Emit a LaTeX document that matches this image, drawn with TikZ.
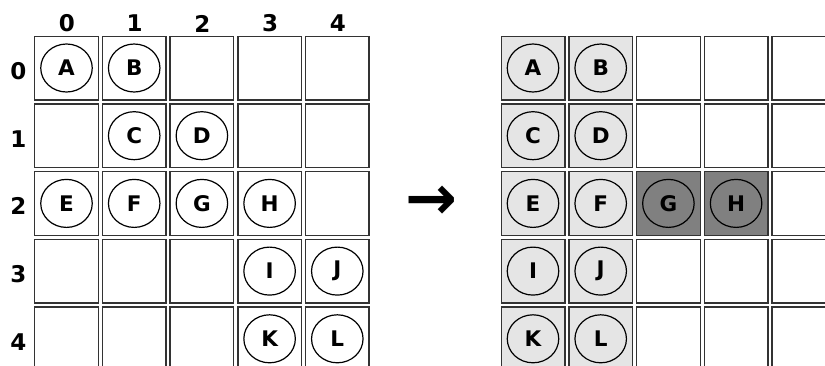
\documentclass[tikz,border=0pt]{standalone}
\usepackage{fontspec}
\setmainfont{DejaVu Sans}
\usetikzlibrary{shapes.geometric}
\begin{document}
\begin{tikzpicture}[x=1pt,y=-1pt,
  cell/.style={draw=black!80, line width=1.4pt, minimum size=63.6pt, inner sep=0pt, outer sep=0pt},
  light/.style={cell, fill=black!10},
  dark/.style={cell, fill=black!50},
  ball/.style={ellipse, draw=black, line width=1.2pt, minimum width=51.5pt, minimum height=48pt, inner sep=0pt,
    font=\fontsize{21.5}{21.5}\selectfont\bfseries},
  lab/.style={font=\fontsize{23}{23}\selectfont\bfseries, inner sep=0pt}
]
\clip (0,0) rectangle (825,365);
\useasboundingbox (0,0) rectangle (825,365);
% left grid
\foreach \i in {0,...,4}{
  \foreach \j in {0,...,4}{
    \node[cell] (L\i\j) at ({66.5+67.7*\i},{68+67.7*\j}) {};
  }
  \node[lab] (col\i) at ({67+67.7*\i},23.5) {\i};
  \node[lab] (row\i) at (18.5,{71+67.7*\i}) {\i};
}
\node[ball] (A) at (L00) {A};
\node[ball] (B) at (L10) {B};
\node[ball] (C) at (L11) {C};
\node[ball] (D) at (L21) {D};
\node[ball] (E) at (L02) {E};
\node[ball] (F) at (L12) {F};
\node[ball] (G) at (L22) {G};
\node[ball] (H) at (L32) {H};
\node[ball] (I) at (L33) {I};
\node[ball] (J) at (L43) {J};
\node[ball] (K) at (L34) {K};
\node[ball] (L) at (L44) {L};
% arrow
\node[font=\fontsize{62}{62}\selectfont\bfseries, inner sep=0pt] (arr) at (431,203) {→};
% right grid
\foreach \j in {0,...,4}{
  \node[light] (R0\j) at ({533+67.7*0},{68+67.7*\j}) {};
  \node[light] (R1\j) at ({533+67.7*1},{68+67.7*\j}) {};
  \node[cell] (R4\j) at ({533+67.7*4},{68+67.7*\j}) {};
}
\foreach \j in {0,1,3,4}{
  \node[cell] (R2\j) at ({533+67.7*2},{68+67.7*\j}) {};
  \node[cell] (R3\j) at ({533+67.7*3},{68+67.7*\j}) {};
}
\node[dark] (R22) at ({533+67.7*2},{68+67.7*2}) {};
\node[dark] (R32) at ({533+67.7*3},{68+67.7*2}) {};
\node[ball] (A2) at (R00) {A};
\node[ball] (B2) at (R10) {B};
\node[ball] (C2) at (R01) {C};
\node[ball] (D2) at (R11) {D};
\node[ball] (E2) at (R02) {E};
\node[ball] (F2) at (R12) {F};
\node[ball] (G2) at (R22) {G};
\node[ball] (H2) at (R32) {H};
\node[ball] (I2) at (R03) {I};
\node[ball] (J2) at (R13) {J};
\node[ball] (K2) at (R04) {K};
\node[ball] (L2) at (R14) {L};
\end{tikzpicture}
\end{document}
